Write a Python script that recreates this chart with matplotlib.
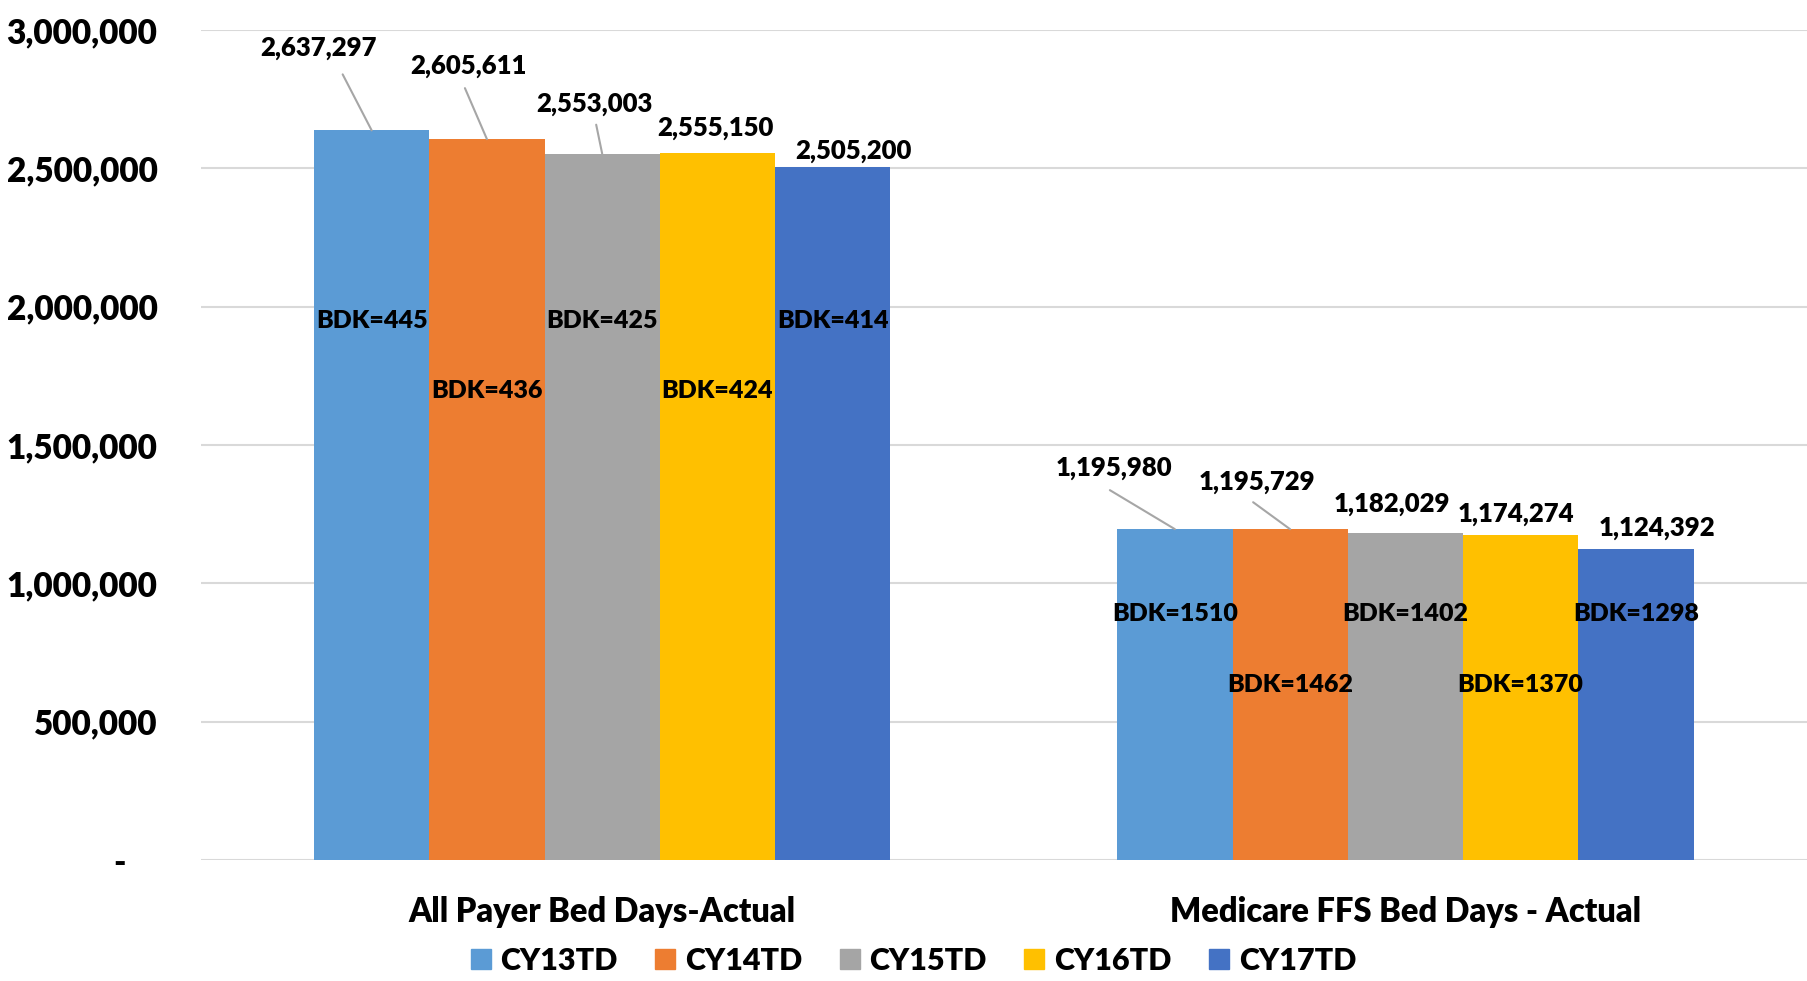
import matplotlib
matplotlib.use("Agg")
import matplotlib.pyplot as plt
from matplotlib.lines import Line2D
import numpy as np

# ---- data ----
categories = ["All Payer Bed Days-Actual", "Medicare FFS Bed Days - Actual"]
series_names = ["CY13TD", "CY14TD", "CY15TD", "CY16TD", "CY17TD"]
cy13 = [2637297, 1195980]
cy14 = [2605611, 1195729]
cy15 = [2553003, 1182029]
cy16 = [2555150, 1174274]
cy17 = [2505200, 1124392]
bdk13 = [445, 1510]
bdk14 = [436, 1462]
bdk15 = [425, 1402]
bdk16 = [424, 1370]
bdk17 = [414, 1298]
yticks = [0, 500000, 1000000, 1500000, 2000000, 2500000, 3000000]

values = [cy13, cy14, cy15, cy16, cy17]
bdks = [bdk13, bdk14, bdk15, bdk16, bdk17]
colors = ["#5B9BD5", "#ED7D31", "#A5A5A5", "#FFC000", "#4472C4"]

FONT = "Lato"
W = "heavy"
plt.rcParams["font.family"] = [FONT, "DejaVu Sans"]
plt.rcParams["font.weight"] = W

fig = plt.figure(figsize=(18.07, 9.81), dpi=100)
ax = fig.add_axes([0.1110, 0.1233, 0.8890, 0.8461])

x = np.arange(len(categories))
bw = 0.1435
n = len(series_names)

# label offsets in pixels (dx, dy) relative to top-centre of bars
label_off = [
    [(-53, 82), (-61, 61)],
    [(-18, 73), (-33, 47)],
    [(-8, 50), (-13, 29)],
    [(-2, 25), (-5, 21)],
    [(21, 16), (21, 21)],
]
leader_end = [
    [(-29, 56), (-65, 39)],
    [(-22, 51), (-37, 27)],
    [(-6, 29), None],
    [None, None],
    [None, None],
]
bdk_y = [(1.95e6, 1.695e6), (0.8875e6, 0.633e6)]

for i in range(n):
    xs = x + (i - (n - 1) / 2) * bw
    ax.bar(xs, values[i], width=bw, color=colors[i], label=series_names[i],
           zorder=3, linewidth=0)
    for j in range(len(categories)):
        top = values[i][j]
        dx, dy = label_off[i][j]
        ax.annotate(f"{top:,}", xy=(xs[j], top), xytext=(dx, dy),
                    textcoords="offset pixels", ha="center", va="center",
                    fontsize=18.5, fontweight=W, color="black", zorder=5)
        le = leader_end[i][j]
        if le is not None:
            ax.annotate("", xy=(xs[j], top), xytext=le, textcoords="offset pixels",
                        arrowprops=dict(arrowstyle="-", color="#a6a6a6", lw=1.5,
                                        shrinkA=0, shrinkB=0), zorder=4)
        yb = bdk_y[j][0] if i % 2 == 0 else bdk_y[j][1]
        ax.text(xs[j], yb, f"BDK={bdks[i][j]}", ha="center", va="center",
                fontsize=18, fontweight=W, color="black", zorder=5)

ax.set_xlim(-0.5, 1.5)
ax.set_ylim(0, 3000000)
ax.set_yticks(yticks)
ax.set_yticklabels([f"{v:,}" if v else "-    " for v in yticks],
                   fontsize=24, fontweight=W)
ax.set_xticks(x)
ax.set_xticklabels(categories, fontsize=23.5, fontweight=W)
ax.tick_params(axis="y", length=0, pad=31)
ax.tick_params(axis="x", length=0, pad=26)
ax.grid(axis="y", color="#d9d9d9", linewidth=1.5, zorder=0)
ax.set_axisbelow(True)
for s in ax.spines.values():
    s.set_visible(False)

handles = [Line2D([0], [0], marker="s", color="none", markerfacecolor=c,
                  markeredgecolor=c, markersize=14) for c in colors]
fig.legend(handles, series_names, loc="center", bbox_to_anchor=(0.504, 0.0204),
           ncol=5, frameon=False, prop={"size": 22, "weight": W},
           handletextpad=0.15, columnspacing=1.05, handlelength=1.0)

fig.savefig("out.png", dpi=100)
